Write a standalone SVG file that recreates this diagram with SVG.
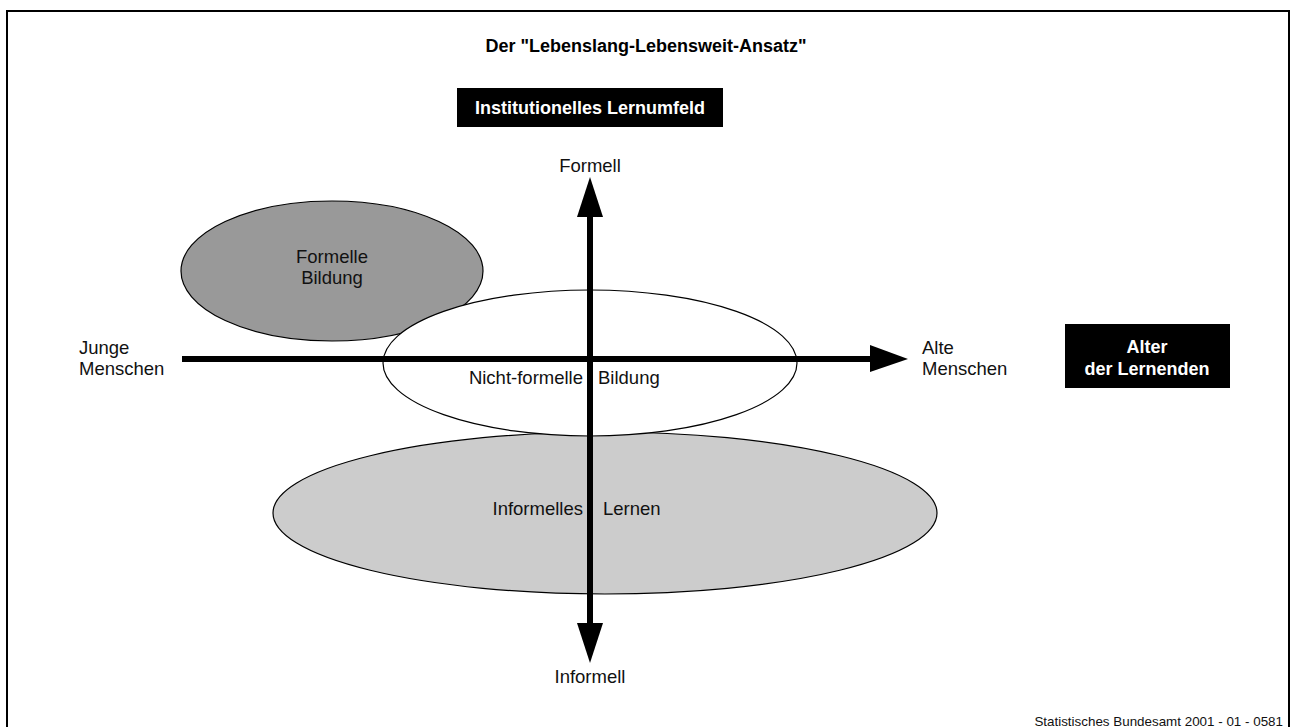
<svg xmlns="http://www.w3.org/2000/svg" width="1292" height="727" viewBox="0 0 1292 727">
<style>
.t{font-family:"Liberation Sans",Arial,sans-serif;font-size:18.5px;fill:#111}
.b{font-family:"Liberation Sans",Arial,sans-serif;font-size:18px;font-weight:bold;fill:#fff}
.e{stroke:#000;stroke-width:1.2}
</style>
<rect width="1292" height="727" fill="#fff"/>
<rect x="7" y="11" width="1282" height="740" fill="none" stroke="#000" stroke-width="2"/>
<text x="646" y="52" text-anchor="middle" font-family="Liberation Sans,Arial,sans-serif" font-size="18" font-weight="bold">Der "Lebenslang-Lebensweit-Ansatz"</text>
<g id="institutionell">
<rect x="457" y="88" width="266" height="39" fill="#000"/>
<text class="b" x="590" y="114" text-anchor="middle">Institutionelles Lernumfeld</text>
</g>
<g id="alter">
<rect x="1065" y="324" width="165" height="64" fill="#000"/>
<text class="b" x="1147" y="353" text-anchor="middle">Alter</text>
<text class="b" x="1147" y="375" text-anchor="middle">der Lernenden</text>
</g>
<g id="formelle">
<ellipse class="e" cx="332" cy="271" rx="151" ry="70" fill="#999"/>
<text class="t" x="332" y="263" text-anchor="middle">Formelle</text>
<text class="t" x="332" y="284" text-anchor="middle">Bildung</text>
</g>
<g id="informelles">
<ellipse class="e" cx="605" cy="513" rx="332" ry="81" fill="#ccc"/>
</g>
<g id="nichtformelle">
<ellipse class="e" cx="590" cy="363" rx="207" ry="73" fill="#fff"/>
</g>
<g id="connectors">
<line x1="182" y1="359" x2="872" y2="359" stroke="#000" stroke-width="6"/>
<polygon points="870,345 908,359 870,372" fill="#000"/>
<line x1="590" y1="215" x2="590" y2="625" stroke="#000" stroke-width="6"/>
<polygon points="577,217 590,177 603,217" fill="#000"/>
<polygon points="577,623 590,663 603,623" fill="#000"/>
</g>
<text class="t" x="583" y="384" text-anchor="end">Nicht-formelle</text>
<text class="t" x="598" y="384">Bildung</text>
<text class="t" x="583" y="515" text-anchor="end">Informelles</text>
<text class="t" x="603" y="515">Lernen</text>
<text class="t" x="590" y="172" text-anchor="middle">Formell</text>
<text class="t" x="590" y="683" text-anchor="middle">Informell</text>
<text class="t" x="79" y="354">Junge</text>
<text class="t" x="79" y="375">Menschen</text>
<text class="t" x="922" y="354">Alte</text>
<text class="t" x="922" y="375">Menschen</text>
<text x="1283" y="726" text-anchor="end" font-family="Liberation Sans,Arial,sans-serif" font-size="13.4" fill="#111">Statistisches Bundesamt 2001 - 01 - 0581</text>
</svg>
